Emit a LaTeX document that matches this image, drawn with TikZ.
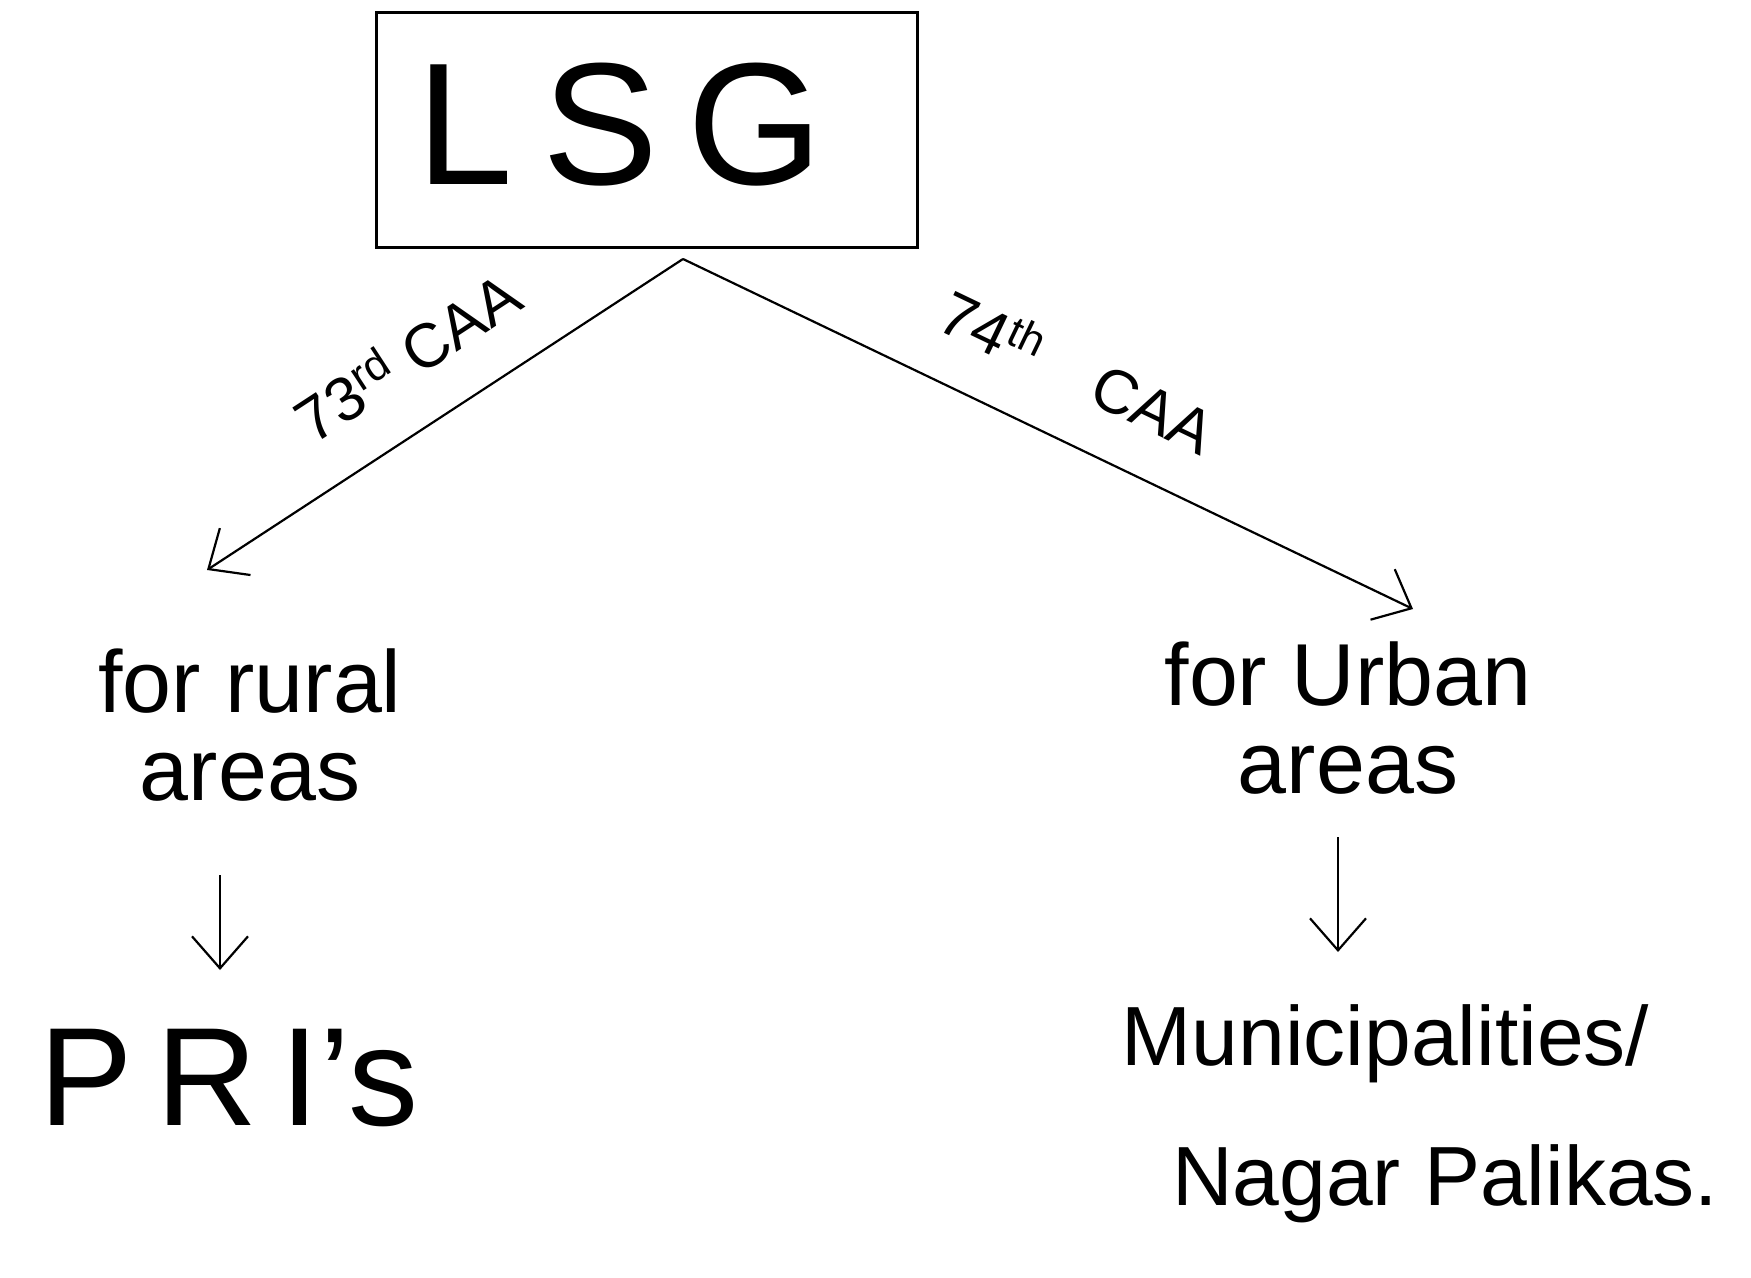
\documentclass[tikz,border=0pt]{standalone}
\usepackage{fontspec}
\setmainfont{Liberation Sans}
\usetikzlibrary{arrows.meta}
\begin{document}
\begin{tikzpicture}[x=0.5pt,y=-0.5pt,
  conn/.style={line width=1.1pt,-{Straight Barb[length=16pt,width=28pt,line width=1.1pt]}},
  lbl/.style={inner sep=0pt,font=\fontsize{31}{34}\selectfont},
  txt/.style={inner sep=0pt,align=center}]
\useasboundingbox (0,0) rectangle (1751,1278);
\node[draw,line width=1.3pt,minimum width=541*0.5pt,minimum height=235*0.5pt,inner sep=0pt] (box) at (647,130) {};
\node[inner sep=0pt,font=\fontsize{87}{90}\selectfont] (lsg) at (620,125) {L\,S\,G};
\coordinate (apex) at (683,259);
\coordinate (lend) at (207,570);
\coordinate (rend) at (1413,609);
\node[txt,font=\fontsize{44}{44}\selectfont] (rural) at (250,725) {for rural\\areas};
\node[txt,font=\fontsize{44}{44}\selectfont] (urban) at (1348,718) {for Urban\\areas};
\node[inner sep=0pt,font=\fontsize{70}{72}\selectfont] (pri) at (229,1078) {P\,R\,I's};
\node[inner sep=0pt,align=left,font=\fontsize{42}{70}\selectfont] (muni) at (1420,1114) {Municipalities/\\\hspace*{0.6em}Nagar Palikas.};
\coordinate (l1) at (220,875);
\coordinate (l2) at (220,970);
\coordinate (r1) at (1338,837);
\coordinate (r2) at (1338,952);
\draw[conn] (apex) -- (lend) node[lbl,midway,sloped,above=22pt] (l73) {73\textsuperscript{rd} CAA};
\draw[conn] (apex) -- (rend) node[lbl,pos=0.5,sloped,above=22pt] (l74) {74\textsuperscript{th}\quad CAA};
\draw[conn] (l1) -- (l2);
\draw[conn] (r1) -- (r2);
\end{tikzpicture}
\end{document}
